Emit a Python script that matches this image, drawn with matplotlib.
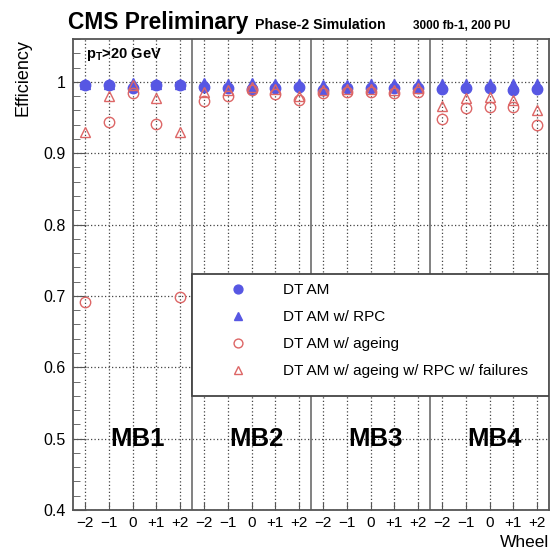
#!/usr/bin/env python3
# DT trigger efficiency per station / wheel, CMS Phase-2 style
import matplotlib
matplotlib.use('Agg')
import matplotlib.pyplot as plt
from matplotlib.patches import Rectangle
from matplotlib.ticker import MultipleLocator, FixedLocator
import numpy as np

STATIONS = ['MB1', 'MB2', 'MB3', 'MB4']
WHEELS = ['\u22122', '\u22121', '0', '+1', '+2']

# efficiency per station, wheels -2..+2
DT_AM = [
    [0.995, 0.995, 0.992, 0.996, 0.995],
    [0.993, 0.991, 0.990, 0.992, 0.993],
    [0.989, 0.991, 0.991, 0.991, 0.992],
    [0.990, 0.991, 0.991, 0.989, 0.990],
]
DT_AM_RPC = [
    [0.997, 0.997, 0.998, 0.997, 0.997],
    [0.998, 0.997, 0.998, 0.997, 0.997],
    [0.996, 0.996, 0.997, 0.997, 0.997],
    [0.997, 0.997, 0.997, 0.997, 0.997],
]
DT_AM_AGEING = [
    [0.691, 0.943, 0.985, 0.941, 0.698],
    [0.973, 0.980, 0.988, 0.983, 0.975],
    [0.985, 0.986, 0.986, 0.985, 0.986],
    [0.948, 0.964, 0.965, 0.965, 0.940],
]
DT_AM_AGEING_RPC_FAIL = [
    [0.929, 0.980, 0.996, 0.977, 0.929],
    [0.986, 0.989, 0.993, 0.990, 0.980],
    [0.989, 0.990, 0.990, 0.989, 0.991],
    [0.966, 0.977, 0.979, 0.975, 0.960],
]

SERIES = [
    ('DT AM', DT_AM),
    ('DT AM w/ RPC', DT_AM_RPC),
    ('DT AM w/ ageing', DT_AM_AGEING),
    ('DT AM w/ ageing w/ RPC w/ failures', DT_AM_AGEING_RPC_FAIL),
]

BLUE = '#5757e3'
RED = '#dd6666'
STYLE = [
    dict(marker='o', color=BLUE, mfc=BLUE, mec=BLUE, ms=7.5),
    dict(marker='^', color=BLUE, mfc=BLUE, mec=BLUE, ms=7.5),
    dict(marker='o', color=RED, mfc='none', mec=RED, ms=7.5, mew=1.0),
    dict(marker='^', color=RED, mfc='none', mec=RED, ms=7.5, mew=1.0),
]

plt.rcParams.update({
    'font.family': 'Liberation Sans',
    'mathtext.fontset': 'custom',
    'mathtext.rm': 'Liberation Sans',
    'mathtext.bf': 'Liberation Sans:bold',
})

W, H = 552, 550
fig = plt.figure(figsize=(W / 100, H / 100), dpi=100)
ax = fig.add_axes([73 / W, 1 - 510 / H, 476 / W, 471 / H])

n_st, n_wh = len(STATIONS), len(WHEELS)
x = np.arange(n_st * n_wh)

for (label, vals), st in zip(SERIES, STYLE):
    y = np.concatenate(vals)
    ax.plot(x, y, ls='none', label=label, zorder=5, **st)

ax.set_xlim(-0.5, n_st * n_wh - 0.5)
ax.set_ylim(0.4, 1.06)

ax.xaxis.set_major_locator(FixedLocator(x))
ax.set_xticklabels(WHEELS * n_st)
ax.yaxis.set_major_locator(MultipleLocator(0.1))
ax.yaxis.set_minor_locator(MultipleLocator(0.02))
ax.yaxis.set_major_formatter(plt.FuncFormatter(lambda v, p: f'{v:g}'))

ax.tick_params(axis='both', which='both', direction='in', colors='#555555',
               labelcolor='black', labelsize=11.5)
ax.tick_params(axis='y', which='major', length=9, pad=5)
ax.tick_params(axis='y', which='minor', length=5)
ax.tick_params(axis='x', which='major', length=6, pad=4, labelsize=11)

ax.grid(True, which='major', ls=(0, (1, 1.8)), color='#444444', lw=0.9, zorder=1)

for s in range(1, n_st):
    ax.axvline(s * n_wh - 0.5, color='#777777', lw=1.3, zorder=2)

for spine in ax.spines.values():
    spine.set_color('#555555')
    spine.set_linewidth(1.3)

# station labels
for s, name in enumerate(STATIONS):
    ax.text(s * n_wh + 2.2, 0.5, name, ha='center', va='center',
            fontsize=18.5, fontweight='bold', zorder=6)

# legend box
ax.add_patch(Rectangle((0.25, 0.242), 0.75, 0.259, transform=ax.transAxes,
                       facecolor='white', edgecolor='#444444', lw=1.3, zorder=3))
ax.legend(loc='upper left', bbox_to_anchor=(0.331, 0.482), frameon=False,
          fontsize=11, handlelength=1.0, handletextpad=2.4, labelspacing=0.85,
          borderpad=0, borderaxespad=0, numpoints=1, markerscale=0.85)

ax.set_xlabel('Wheel', fontsize=12.5, loc='right', labelpad=4)
ax.set_ylabel('Efficiency', fontsize=13, loc='top', labelpad=9)

fig.text(68 / W, 1 - 29 / H, 'CMS Preliminary', fontsize=16.4, fontweight='bold',
         ha='left', va='baseline')
fig.text(255 / W, 1 - 29 / H, 'Phase-2 Simulation', fontsize=10.2,
         fontweight='bold', ha='left', va='baseline')
fig.text(413 / W, 1 - 29 / H, '3000 fb-1, 200 PU', fontsize=8.5,
         fontweight='bold', ha='left', va='baseline')
ax.text(86 / W, 1 - 58 / H, r'p$_{\mathbf{T}}$>20 GeV', transform=fig.transFigure,
        fontsize=10.5, fontweight='bold', ha='left', va='baseline', zorder=6)

fig.savefig('out.png', dpi=100)
